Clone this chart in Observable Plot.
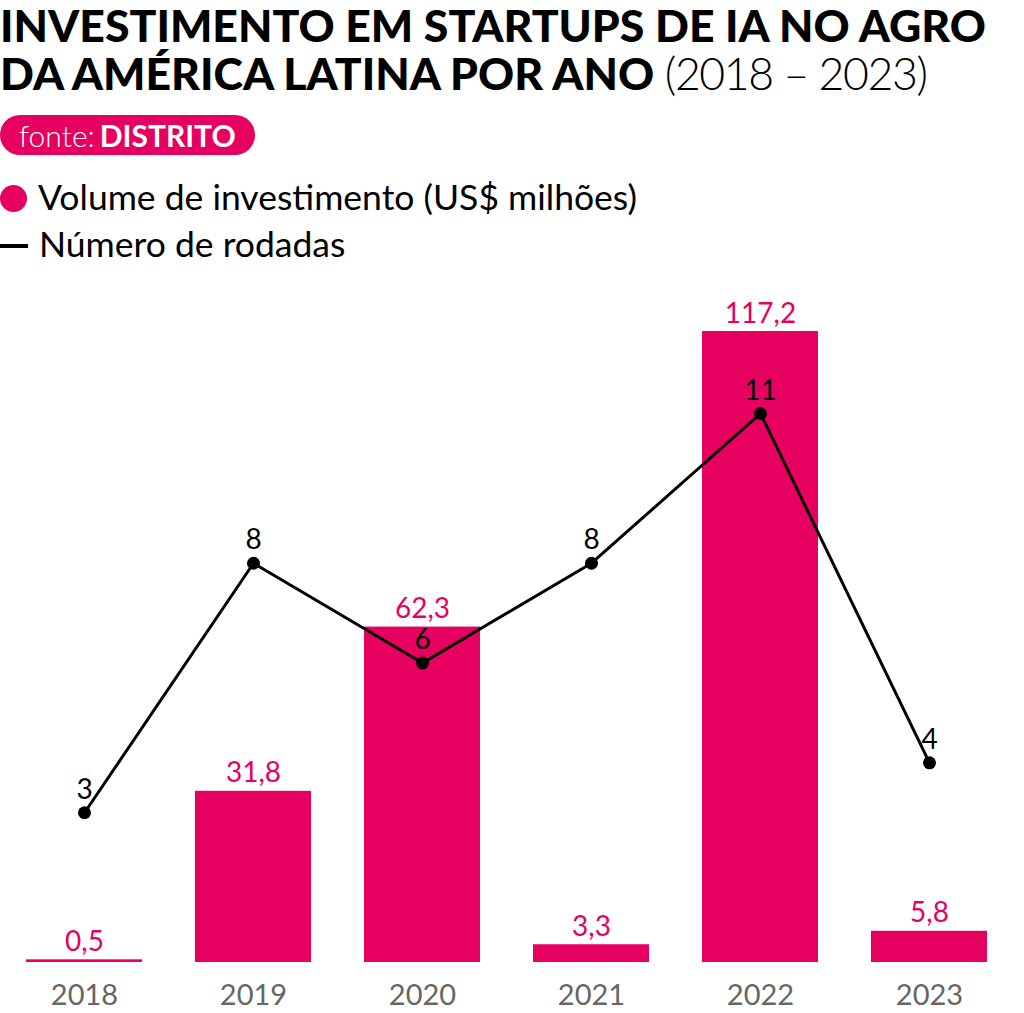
<!DOCTYPE html>
<html>
<head>
<meta charset="utf-8">
<script src="https://cdn.jsdelivr.net/npm/d3@7"></script>
<script src="https://cdn.jsdelivr.net/npm/@observablehq/plot@0.6"></script>
<style>
  html, body { margin: 0; padding: 0; background: #fff; }
  body { width: 1024px; height: 1013px; position: relative; overflow: hidden; font-family: Lato, sans-serif; color: #000; }
  #title { position: absolute; left: 0; top: 1px; font-weight: 900; font-size: 44.6px; line-height: 48px; letter-spacing: 0; white-space: nowrap; }
  #title .light { font-weight: 300; letter-spacing: -1.4px; }
  #source { position: absolute; left: 0; top: 115px; height: 40px; width: 255px; border-radius: 20px; background: #e6005f; color: #fff; font-size: 30px; line-height: 40px; box-sizing: border-box; padding-left: 19px; white-space: nowrap; }
  #source .l { font-weight: 300; }
  #source b { font-weight: 700; }
  .leg { position: absolute; left: 0; font-size: 35.5px; white-space: nowrap; line-height: 40px; }
  .leg .sw { display: inline-block; vertical-align: middle; }
  #chart { position: absolute; left: 0; top: 270px; width: 1024px; height: 743px; }
  #chart svg { position: absolute; left: 0; top: 0; }
</style>
</head>
<body>
<div id="title">INVESTIMENTO EM STARTUPS DE IA NO AGRO<br>DA AMÉRICA LATINA POR ANO <span class="light">(2018 – 2023)</span></div>
<div id="source"><span class="l">fonte:</span><b style="margin-left:5px">DISTRITO</b></div>
<div class="leg" id="leg1" style="top:177px;"><span class="sw" style="width:27px;height:27px;border-radius:50%;background:#e6005f;margin-right:11px;margin-top:-5px;"></span>Volume de investimento (US$ milhões)</div>
<div class="leg" id="leg2" style="top:224px;"><span class="sw" style="width:28px;height:4px;background:#000;margin-right:11px;margin-top:-5px;"></span>Número de rodadas</div>
<div id="chart"></div>
<script>
const anos = ["2018", "2019", "2020", "2021", "2022", "2023"];
const investimento = [0.5, 31.8, 62.3, 3.3, 117.2, 5.8];
const rodadas = [3, 8, 6, 8, 11, 4];

const pink = "#e6005f";
const W = 1024, H = 743;
const fmt = v => v.toFixed(1).replace(".", ",");

const barData = anos.map((a, i) => ({ano: a, valor: investimento[i]}));
const lineData = anos.map((a, i) => ({ano: a, n: rodadas[i]}));

const xOpts = {type: "band", domain: anos, paddingInner: 0.315, paddingOuter: 0, align: 0.5};

const bars = Plot.plot({
  width: W, height: H,
  marginLeft: 25, marginRight: 36, marginTop: 61, marginBottom: 51,
  x: {...xOpts, axis: null, label: null},
  y: {domain: [0, d3.max(investimento)], axis: null},
  style: {fontFamily: "Lato, sans-serif", fontSize: "28px", background: "transparent", overflow: "visible"},
  marks: [
    Plot.barY(barData, {x: "ano", y: "valor", fill: pink}),
    Plot.text(barData, {x: "ano", y: "valor", text: d => fmt(d.valor), fill: pink, lineAnchor: "bottom", dy: -9, fontSize: 28}),
    Plot.axisX({tickSize: 0, tickPadding: 22, fill: "#666", fontSize: 29, label: null})
  ]
});

const line = Plot.plot({
  width: W, height: H,
  marginLeft: 25, marginRight: 36, marginTop: 143, marginBottom: 51,
  x: {...xOpts, axis: null, label: null},
  y: {domain: [0, d3.max(rodadas)], axis: null},
  style: {fontFamily: "Lato, sans-serif", fontSize: "28px", background: "transparent", overflow: "visible"},
  marks: [
    Plot.line(lineData, {x: "ano", y: "n", stroke: "#000", strokeWidth: 3}),
    Plot.dot(lineData, {x: "ano", y: "n", r: 6.5, fill: "#000"}),
    Plot.text(lineData, {x: "ano", y: "n", text: d => String(d.n), fill: "#000", lineAnchor: "bottom", dy: -14, fontSize: 28})
  ]
});

document.getElementById("chart").append(bars, line);
</script>
</body>
</html>
